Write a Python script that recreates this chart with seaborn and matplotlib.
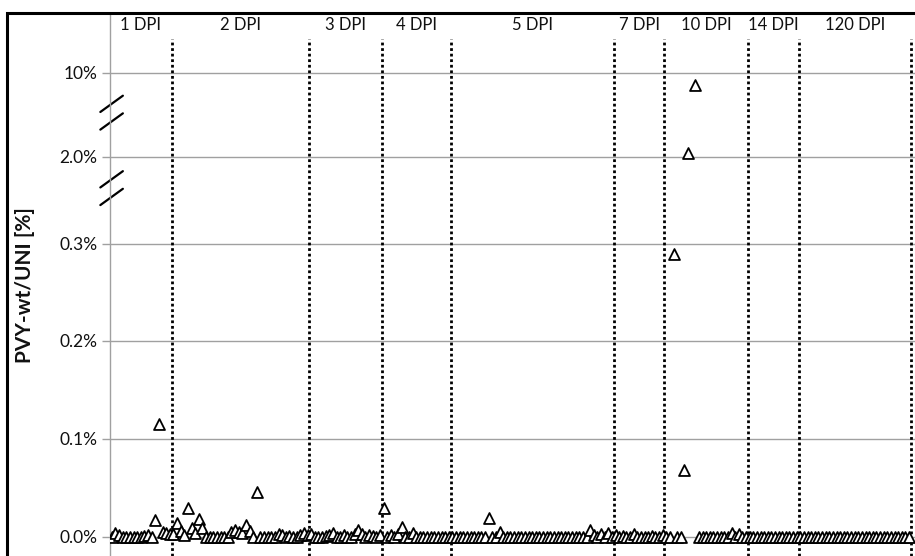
import numpy as np
import pandas as pd
import seaborn as sns
import matplotlib.pyplot as plt
import matplotlib.transforms as mtransforms
from matplotlib.patches import Rectangle

# sampling days (one block of samples per day)
groups = ["1 DPI", "2 DPI", "3 DPI", "4 DPI", "5 DPI", "7 DPI", "10 DPI", "14 DPI", "120 DPI"]

# PVY-wt/UNI in percent
dpi1 = [0, 0.004, 0.002, 0, 0, 0, 0, 0, 0, 0.001, 0.002, 0, 0.017, 0.115, 0.005, 0.004, 0.003]
dpi2 = [0.003, 0.014, 0.006, 0.002, 0.030, 0.009, 0.004, 0.018, 0.009, 0, 0, 0, 0, 0, 0, 0,
        0.005, 0.007, 0.005, 0.004, 0.012, 0.006, 0, 0.046, 0, 0, 0, 0, 0, 0.003, 0.002, 0,
        0.001, 0, 0, 0.002, 0.004, 0.002]
dpi3 = [0.003, 0, 0, 0, 0.001, 0.002, 0.004, 0, 0, 0.002, 0, 0, 0.003, 0.007, 0.003, 0,
        0.002, 0.001, 0, 0.002]
dpi4 = [0.030, 0, 0.002, 0, 0.003, 0.010, 0, 0, 0.004, 0, 0, 0, 0, 0, 0, 0, 0, 0, 0]
dpi5 = [0, 0, 0, 0, 0, 0, 0, 0, 0, 0, 0.019, 0, 0, 0.005, 0, 0, 0, 0, 0, 0, 0, 0, 0, 0,
        0, 0, 0, 0, 0, 0, 0, 0, 0, 0, 0, 0, 0, 0, 0.007, 0.002, 0, 0.003, 0, 0.004, 0]
dpi7 = [0.002, 0, 0.001, 0, 0, 0.003, 0, 0, 0, 0, 0.001, 0, 0, 0.002]
dpi10 = [0, 0, 0.29, 0, 0, 0.068, 2.35, np.nan, 8.8, 0, 0, 0, 0, 0, 0, 0, 0, 0, 0.004, 0,
         0.003, 0, 0]
dpi14 = [0] * 14
dpi120 = [0] * 31

blocks = [dpi1, dpi2, dpi3, dpi4, dpi5, dpi7, dpi10, dpi14, dpi120]

# broken y axis: tick values and where they sit on the drawn axis
tick_values = [0.0, 0.1, 0.2, 0.3, 2.0, 10.0]
tick_labels = ["0.0%", "0.1%", "0.2%", "0.3%", "2.0%", "10%"]

values = np.concatenate([np.array(b, dtype=float) for b in blocks])
df = pd.DataFrame({"sample": np.arange(1, len(values) + 1), "value": values})
bounds = np.cumsum([len(b) for b in blocks])
starts = np.concatenate([[0], bounds[:-1]])

sns.set_style("white")
plt.rcParams["font.family"] = ["Lato", "DejaVu Sans"]

fig = plt.figure(figsize=(9.15, 5.56), dpi=100)
ax = fig.add_axes([110 / 915, 0, 805 / 915, 543 / 556])

# piecewise scale for the axis break
sv = [-1, 0.0, 0.1, 0.2, 0.3, 2.0, 10.0, 100.0]
sp = [-10, 0, 1, 2, 2.99, 3.88, 4.735, 4.735 + 90 * 0.855 / 8]
ax.set_yscale("function", functions=(lambda v: np.interp(v, sv, sp),
                                     lambda p: np.interp(p, sp, sv)))

sns.scatterplot(data=df, x="sample", y="value", marker="^", s=62, color="white",
                edgecolor="black", linewidth=1.3, ax=ax, zorder=3, legend=False)

ax.set_xlim(0.5, 0.5 + 805 / 3.624)
ax.set_ylim(-0.0194, 15.7)

ax.set_yticks(tick_values)
ax.set_yticklabels(tick_labels)
ax.yaxis.grid(True, color="#a0a0a0", linewidth=1)
ax.set_xticks([])
ax.tick_params(axis="y", left=True, length=6, width=1, color="#a0a0a0",
               labelsize=12.5, pad=3, labelcolor="#111111")

for s in ["top", "right", "bottom"]:
    ax.spines[s].set_visible(False)
ax.spines["left"].set_color("#a0a0a0")
ax.spines["left"].set_linewidth(1)

# day separators and labels
trans = mtransforms.blended_transform_factory(ax.transData, ax.transAxes)
for b in bounds:
    ax.axvline(b + 0.5, ymin=0, ymax=0.952, color="black", linestyle=(0, (1, 1)),
               linewidth=2, zorder=2)
for g, s0, b in zip(groups, starts, bounds):
    ax.text((s0 + b) / 2 + 0.5, 0.978, g, transform=trans, ha="center", va="center",
            fontsize=12, color="#111111")

ax.set_xlabel("")
ax.set_ylabel("PVY-wt/UNI [%]", fontsize=15, fontweight="bold", color="#111111")
ax.yaxis.set_label_coords(-0.093, 0.499)

# axis break marks
for yb in [4.33, 3.56]:
    for dy in [-0.09, 0.09]:
        y0 = (yb + dy + 0.194) / 5.541
        ax.plot([-0.012, 0.016], [y0 - 0.015, y0 + 0.015], transform=ax.transAxes,
                color="black", linewidth=1.6, clip_on=False)

# chart border
fig.patches.append(Rectangle((7 / 915, -0.05), 1.1, 1 - 13 / 556 + 0.05,
                             transform=fig.transFigure, fill=False,
                             edgecolor="black", linewidth=2.2))

fig.savefig("out.png", dpi=100)
